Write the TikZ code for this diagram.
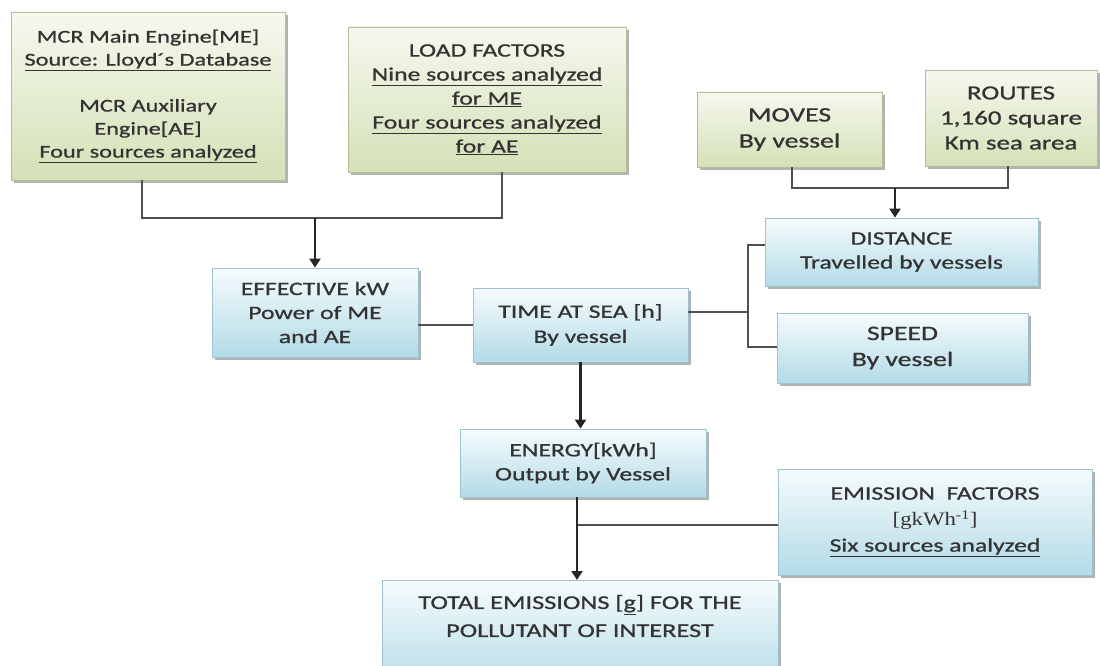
\documentclass[tikz,border=0pt]{standalone}
\usepackage{fontspec}
\setmainfont{Carlito}[FakeStretch=1.35, FakeBold=0.9]
\newfontfamily\serifface{Liberation Serif}[FakeStretch=1.2]
\usetikzlibrary{shadows,arrows.meta}

\definecolor{txtgray}{HTML}{333333}
\definecolor{greentop}{HTML}{F6F8EF}
\definecolor{greenbot}{HTML}{D4E1B6}
\definecolor{greenedge}{HTML}{B4BE9C}
\definecolor{bluetop}{HTML}{F6FBFD}
\definecolor{bluebot}{HTML}{B3DBE7}
\definecolor{blueedge}{HTML}{9DC3D0}
\definecolor{linkgray}{HTML}{505050}

\tikzset{
  basebox/.style={rectangle, line width=0.8pt, inner sep=4pt, align=center,
    text=txtgray, font=\fontsize{19}{24}\selectfont,
    drop shadow={shadow xshift=2.5pt, shadow yshift=-3pt, fill=black, opacity=0.3}},
  greenbox/.style={basebox, draw=greenedge, top color=greentop, bottom color=greenbot},
  bluebox/.style={basebox, draw=blueedge, top color=bluetop, bottom color=bluebot},
  bigtext/.style={font=\fontsize{20.5}{26}\selectfont},
  link/.style={draw=linkgray, line width=2pt},
  arrowlink/.style={draw=black!85, line width=2.2pt, -{Triangle[length=9pt,width=11pt]}},
}

\begin{document}
\begin{tikzpicture}[x=1pt, y=-1pt]
\fill[white] (0,0) rectangle (1100,666);
\useasboundingbox (0,0) rectangle (1100,666);

% input boxes (green)
\node[greenbox, minimum width=274pt, minimum height=168pt, font=\fontsize{18}{23}\selectfont] (mcr) at (148,96)
  {MCR Main Engine[ME]\\ \underline{Source: Lloyd´s Database}\\[23pt]
   MCR Auxiliary\\ Engine[AE]\\ \underline{Four sources analyzed}};
\node[greenbox, minimum width=278pt, minimum height=145pt] (load) at (487,99.5)
  {LOAD FACTORS\\ \underline{Nine sources analyzed}\\ \underline{for ME}\\
   \underline{Four sources analyzed}\\ \underline{for AE}};
\node[greenbox, bigtext, minimum width=185pt, minimum height=75pt] (moves) at (789.5,129.5)
  {MOVES\\ By vessel};
\node[greenbox, bigtext, minimum width=172pt, minimum height=96pt, font=\fontsize{20}{25}\selectfont] (routes) at (1011,118)
  {ROUTES\\ 1,160 square\\ Km sea area};

% derived quantities (blue)
\node[bluebox, minimum width=273pt, minimum height=68pt] (dist) at (901.5,252)
  {DISTANCE\\ Travelled by vessels};
\node[bluebox, bigtext, minimum width=251pt, minimum height=70pt] (speed) at (902.5,348)
  {SPEED\\ By vessel};
\node[bluebox, minimum width=206pt, minimum height=89pt] (eff) at (315,312.5)
  {EFFECTIVE kW\\ Power of ME\\ and AE};
\node[bluebox, minimum width=215pt, minimum height=74pt, font=\fontsize{19}{25}\selectfont] (time) at (580.5,325)
  {TIME AT SEA [h]\\ By vessel};
\node[bluebox, minimum width=246pt, minimum height=68pt] (energy) at (583,463)
  {ENERGY[kWh]\\ Output by Vessel};
\node[bluebox, minimum width=314pt, minimum height=106pt, font=\fontsize{19}{26}\selectfont] (emis) at (935,522)
  {EMISSION\ \ FACTORS\\ {\serifface [gkWh\textsuperscript{-1}]}\\ \underline{Six sources analyzed}};
\node[bluebox, minimum width=396pt, minimum height=110pt, anchor=north] (total) at (580,580) {};
\node[text=txtgray, align=center, font=\fontsize{19.5}{28}\selectfont] (totaltext) at (580,616)
  {TOTAL EMISSIONS [\underline{g}] FOR THE\\ POLLUTANT OF INTEREST};

% junction points
\coordinate (jTop) at (315,218);
\coordinate (jMR) at (895,188);
\coordinate (jT) at (748,312);
\coordinate (jD) at (748,245);
\coordinate (jS) at (748,347);
\coordinate (jE) at (577,525);

% MCR + load factors -> effective kW
\draw[link] (mcr.south -| 142,0) |- (jTop) -| (load.south -| 502,0);
\draw[arrowlink] (jTop) -- (eff.north);

% moves + routes -> distance
\draw[link] (moves.south -| 792,0) |- (jMR) -| (routes.south -| 1008,0);
\draw[arrowlink] (jMR) -- (jMR |- dist.north);

% effective kW -- time at sea
\draw[link] (eff.east |- time.west) -- (time.west);

% time at sea -- distance / speed
\draw[link] (time.east |- jT) -- (jT);
\draw[link] (jD -| dist.west) -- (jD) -- (jS) -- (jS -| speed.west);

% time at sea -> energy
\draw[arrowlink] (time.south) -- (time.south |- energy.north);

% energy + emission factors -> total emissions
\draw[link] (jE) -- (jE -| emis.west);
\draw[arrowlink] (energy.south -| jE) -- (jE |- total.north);
\end{tikzpicture}
\end{document}
